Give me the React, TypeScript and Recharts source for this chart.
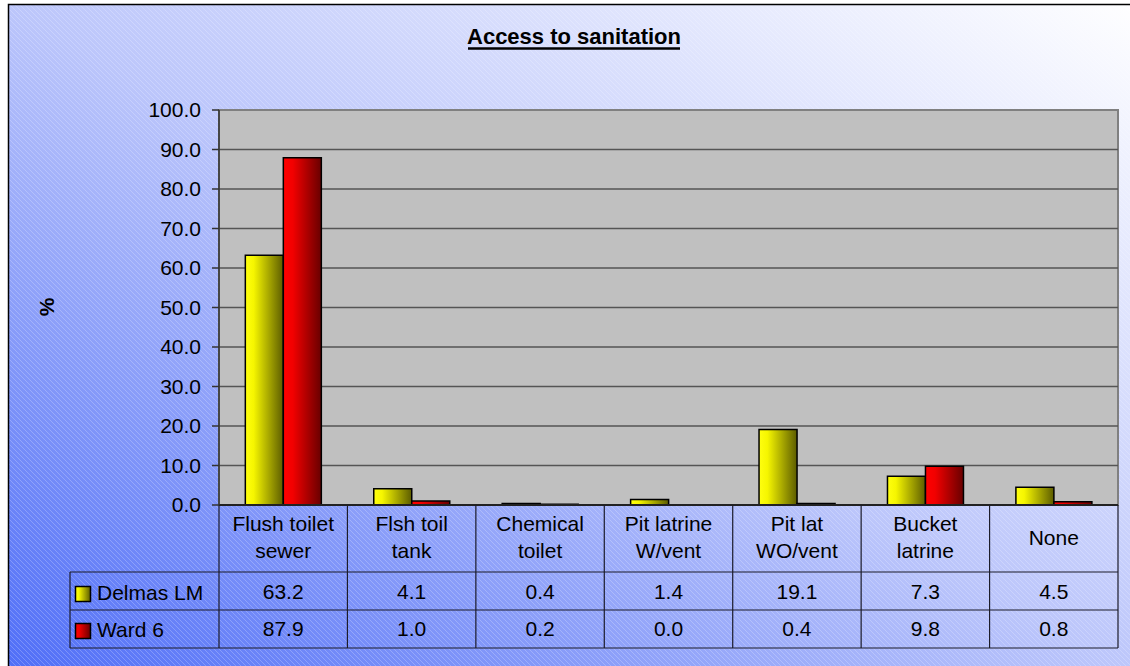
import React from 'react';
import { BarChart, Bar, XAxis, YAxis, CartesianGrid, ReferenceLine } from 'recharts';

// chart values
const categories = [
  'Flush toilet\nsewer',
  'Flsh toil\ntank',
  'Chemical\ntoilet',
  'Pit latrine\nW/vent',
  'Pit lat\nWO/vent',
  'Bucket\nlatrine',
  'None',
];
const delmasLM = [63.2, 4.1, 0.4, 1.4, 19.1, 7.3, 4.5];
const ward6 = [87.9, 1.0, 0.2, 0.0, 0.4, 9.8, 0.8];
const seriesNames = ['Delmas LM', 'Ward 6'];
const yTicks = [0, 10, 20, 30, 40, 50, 60, 70, 80, 90, 100];

const data = categories.map((name, i) => ({ name, delmas: delmasLM[i], ward: ward6[i] }));

// layout
const W = 1130;
const H = 666;
const PLOT_LEFT = 219;
const PLOT_RIGHT = 1118;
const PLOT_TOP = 110;
const PLOT_BOTTOM = 505;
const TABLE_LEFT = 70;
const ROW1 = 572;
const ROW2 = 610;
const TABLE_BOTTOM = 648;
const BAND = (PLOT_RIGHT - PLOT_LEFT) / categories.length;
const FONT = '"Liberation Sans", Arial, sans-serif';
const LINE = '#1c1c2a';

const TableTick = (props: any) => {
  const { x, payload } = props;
  const i = categories.indexOf(payload.value);
  const lines = String(payload.value).split('\n');
  const y0 = lines.length > 1 ? 531 : 545;
  return (
    <g>
      <text x={x} y={y0} textAnchor="middle" fontFamily={FONT} fontSize={21} fill="#000">
        {lines.map((l, k) => (
          <tspan key={k} x={x} dy={k === 0 ? 0 : 27}>{l}</tspan>
        ))}
      </text>
      <text x={x} y={599} textAnchor="middle" fontFamily={FONT} fontSize={21} fill="#000">
        {delmasLM[i].toFixed(1)}
      </text>
      <text x={x} y={636} textAnchor="middle" fontFamily={FONT} fontSize={21} fill="#000">
        {ward6[i].toFixed(1)}
      </text>
      <line x1={x + BAND / 2} x2={x + BAND / 2} y1={PLOT_BOTTOM} y2={TABLE_BOTTOM} stroke={LINE} strokeWidth={1.2} />
    </g>
  );
};

export default function App() {
  return (
    <div style={{ position: 'absolute', left: 0, top: 0, width: W, height: H, overflow: 'hidden' }}>
      <svg width={W} height={H} style={{ position: 'absolute', left: 0, top: 0 }}>
        <defs>
          <linearGradient id="bgGrad" x1="0" y1="1" x2="1" y2="0">
            <stop offset="0" stopColor="#4d6cf7" />
            <stop offset="0.5" stopColor="#bcc6fb" />
            <stop offset="1" stopColor="#ffffff" />
          </linearGradient>
          <pattern id="hatch" width="5" height="5" patternUnits="userSpaceOnUse">
            <path d="M0,0 L5,5 M-1,4 L1,6 M4,-1 L6,1" stroke="#ffffff" strokeOpacity={0.28} strokeWidth={0.8} />
          </pattern>
          <linearGradient id="gradY" x1="0" y1="0" x2="1" y2="0">
            <stop offset="0" stopColor="#ffff10" />
            <stop offset="0.22" stopColor="#f6f600" />
            <stop offset="1" stopColor="#5c5c00" />
          </linearGradient>
          <linearGradient id="gradR" x1="0" y1="0" x2="1" y2="0">
            <stop offset="0" stopColor="#ff0000" />
            <stop offset="0.25" stopColor="#f20000" />
            <stop offset="1" stopColor="#680000" />
          </linearGradient>
        </defs>
        <rect x={8.5} y={4.5} width={1140} height={680} fill="url(#bgGrad)" />
        <rect x={8.5} y={4.5} width={1140} height={680} fill="url(#hatch)" />
        <rect x={8.5} y={4.5} width={1140} height={680} fill="none" stroke="#000" strokeWidth={1.5} />

        <rect
          x={PLOT_LEFT}
          y={PLOT_TOP}
          width={PLOT_RIGHT - PLOT_LEFT}
          height={PLOT_BOTTOM - PLOT_TOP}
          fill="#c0c0c0"
          stroke="#808080"
          strokeWidth={2}
        />

        <text x={574} y={44} textAnchor="middle" fontFamily={FONT} fontSize={22} fontWeight="bold" fill="#000">
          Access to sanitation
        </text>
        <line x1={468} x2={680} y1={48.5} y2={48.5} stroke="#000" strokeWidth={2.5} />

        <text
          x={46}
          y={307}
          textAnchor="middle"
          dominantBaseline="central"
          fontFamily={FONT}
          fontSize={21}
          fontWeight="bold"
          fill="#000"
          transform="rotate(-90 46 307)"
        >
          %
        </text>

        {/* data table frame */}
        <line x1={PLOT_LEFT} x2={PLOT_LEFT} y1={PLOT_BOTTOM} y2={TABLE_BOTTOM} stroke={LINE} strokeWidth={1.2} />
        <line x1={TABLE_LEFT} x2={PLOT_RIGHT} y1={ROW1} y2={ROW1} stroke={LINE} strokeWidth={1.2} />
        <line x1={TABLE_LEFT} x2={PLOT_RIGHT} y1={ROW2} y2={ROW2} stroke={LINE} strokeWidth={1.2} />
        <line x1={TABLE_LEFT} x2={PLOT_RIGHT} y1={TABLE_BOTTOM} y2={TABLE_BOTTOM} stroke={LINE} strokeWidth={1.2} />
        <line x1={TABLE_LEFT} x2={TABLE_LEFT} y1={ROW1} y2={TABLE_BOTTOM} stroke={LINE} strokeWidth={1.2} />

        {seriesNames.map((s, k) => (
          <g key={s}>
            <rect
              x={75.5}
              y={k === 0 ? 586.5 : 623.5}
              width={15}
              height={15}
              fill={k === 0 ? 'url(#gradY)' : 'url(#gradR)'}
              stroke="#000"
              strokeWidth={1.5}
            />
            <text x={97} y={k === 0 ? 600 : 637} fontFamily={FONT} fontSize={21} fill="#000">
              {s}
            </text>
          </g>
        ))}
      </svg>

      <div style={{ position: 'absolute', left: 0, top: 0 }}>
        <BarChart
          width={W}
          height={H}
          data={data}
          margin={{ top: PLOT_TOP, right: W - PLOT_RIGHT, bottom: H - TABLE_BOTTOM, left: 9 }}
          barCategoryGap="20.5%"
          barGap={0}
        >
          <CartesianGrid vertical={false} stroke="#555555" strokeWidth={1.5} />
          <XAxis
            dataKey="name"
            height={TABLE_BOTTOM - PLOT_BOTTOM}
            interval={0}
            tickLine={false}
            axisLine={{ stroke: '#222', strokeWidth: 2 }}
            tick={<TableTick />}
          />
          <YAxis
            type="number"
            domain={[0, 100]}
            ticks={yTicks}
            interval={0}
            width={PLOT_LEFT - 9}
            tickSize={7}
            tickMargin={11}
            tickFormatter={(v: number) => v.toFixed(1)}
            tick={{ fill: '#000', fontSize: 21, fontFamily: FONT }}
            axisLine={{ stroke: '#333', strokeWidth: 1.5 }}
            tickLine={{ stroke: '#333', strokeWidth: 1.5 }}
          />
          <ReferenceLine y={100} stroke="#808080" strokeWidth={2} />
          <Bar dataKey="delmas" name={seriesNames[0]} fill="url(#gradY)" stroke="#000" strokeWidth={1.5} isAnimationActive={false} />
          <Bar dataKey="ward" name={seriesNames[1]} fill="url(#gradR)" stroke="#000" strokeWidth={1.5} isAnimationActive={false} />
        </BarChart>
      </div>
    </div>
  );
}
